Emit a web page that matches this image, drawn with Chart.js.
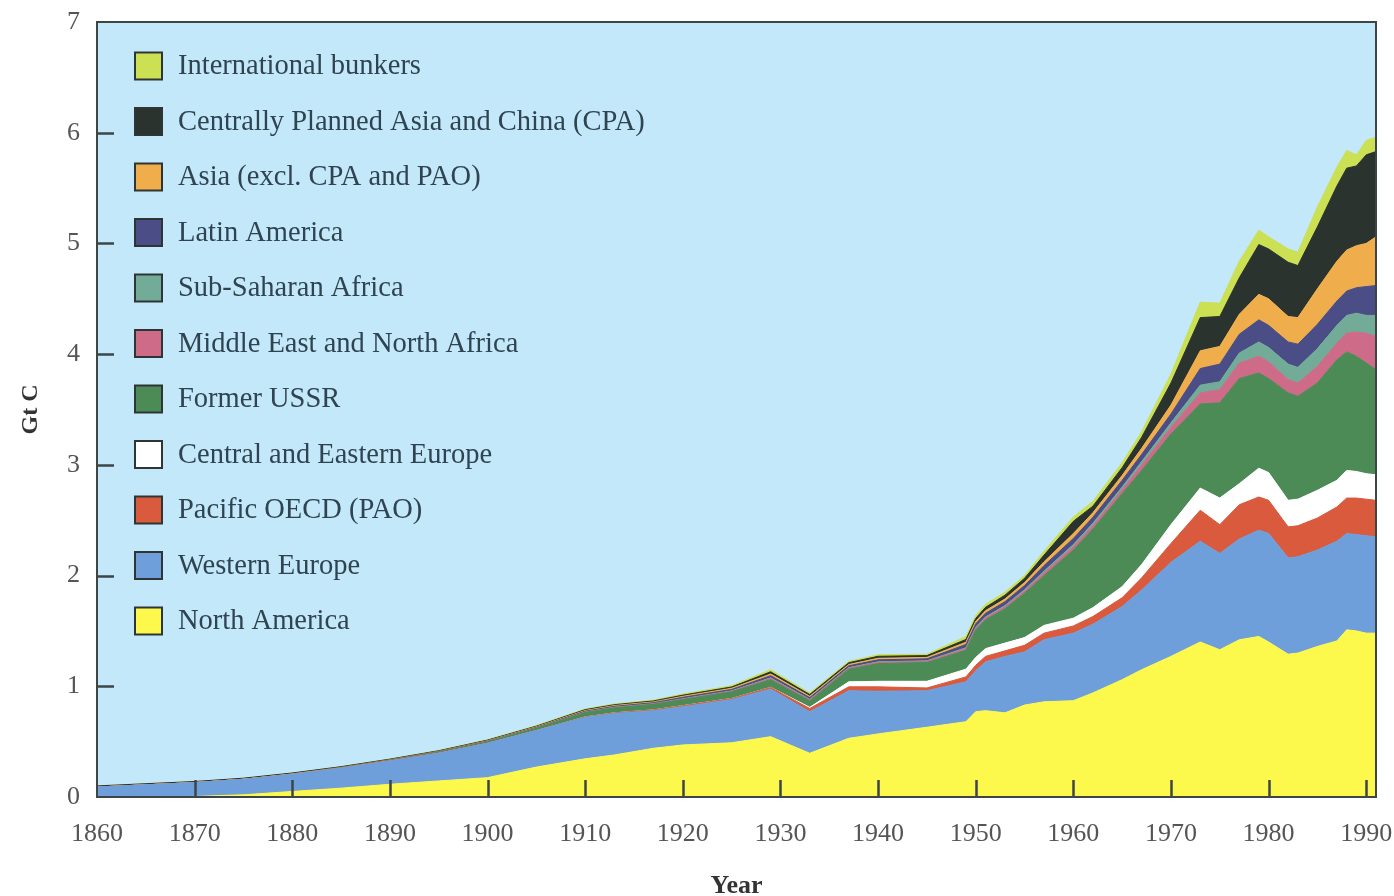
<!DOCTYPE html>
<html>
<head>
<meta charset="utf-8">
<title>Carbon emissions by region, 1860-1991</title>
<script src="https://cdn.jsdelivr.net/npm/chart.js@4.4.1/dist/chart.umd.min.js"></script>
<style>
  html, body { margin: 0; padding: 0; background: #ffffff; }
  #wrap { width: 1394px; height: 896px; }
</style>
</head>
<body>
<div id="wrap"><canvas id="emissions" width="1394" height="896"></canvas></div>
<script>
// Emissions in Gt C, one value per year below
const years = [1860, 1865, 1870, 1875, 1880, 1885, 1890, 1895, 1900, 1905,
  1910, 1913, 1917, 1920, 1925, 1929, 1933, 1937, 1940, 1945,
  1949, 1950, 1951, 1953, 1955, 1957, 1960, 1962, 1965, 1967,
  1970, 1973, 1975, 1977, 1979, 1980, 1982, 1983, 1985, 1987,
  1988, 1989, 1990, 1991];

const northAmerica = [0, 0, 0.005, 0.02, 0.05, 0.08, 0.115, 0.145, 0.175, 0.27,
  0.345, 0.38, 0.44, 0.47, 0.49, 0.545, 0.395, 0.53, 0.57, 0.63,
  0.68, 0.77, 0.78, 0.76, 0.83, 0.86, 0.87, 0.94, 1.06, 1.15,
  1.27, 1.40, 1.33, 1.42, 1.45, 1.40, 1.29, 1.30, 1.36, 1.41,
  1.51, 1.50, 1.48, 1.48];

const westernEurope = [0.09, 0.11, 0.125, 0.14, 0.155, 0.18, 0.21, 0.25, 0.31, 0.33,
  0.375, 0.375, 0.34, 0.345, 0.39, 0.43, 0.375, 0.43, 0.385, 0.33,
  0.36, 0.37, 0.44, 0.51, 0.48, 0.56, 0.61, 0.62, 0.66, 0.72,
  0.85, 0.91, 0.87, 0.91, 0.96, 0.98, 0.87, 0.87, 0.87, 0.90,
  0.87, 0.87, 0.88, 0.87];

const pacificOECD = [0, 0, 0, 0, 0, 0, 0, 0, 0, 0,
  0.003, 0.005, 0.007, 0.01, 0.01, 0.015, 0.03, 0.035, 0.04, 0.025,
  0.045, 0.05, 0.05, 0.05, 0.06, 0.06, 0.065, 0.07, 0.08, 0.11,
  0.17, 0.28, 0.26, 0.31, 0.30, 0.30, 0.28, 0.28, 0.29, 0.31,
  0.32, 0.33, 0.33, 0.33];

const easternEurope = [0, 0, 0, 0, 0, 0, 0, 0, 0, 0,
  0, 0, 0, 0, 0, 0, 0.01, 0.045, 0.05, 0.06,
  0.07, 0.07, 0.07, 0.07, 0.07, 0.07, 0.07, 0.08, 0.10, 0.12,
  0.17, 0.20, 0.24, 0.19, 0.26, 0.25, 0.24, 0.24, 0.25, 0.24,
  0.25, 0.24, 0.23, 0.23];

const formerUSSR = [0, 0, 0, 0, 0.002, 0.003, 0.005, 0.008, 0.013, 0.02,
  0.04, 0.045, 0.05, 0.055, 0.06, 0.07, 0.06, 0.115, 0.16, 0.17,
  0.17, 0.25, 0.26, 0.31, 0.40, 0.45, 0.615, 0.71, 0.84, 0.85,
  0.82, 0.76, 0.86, 0.95, 0.86, 0.85, 0.97, 0.93, 0.97, 1.09,
  1.07, 1.04, 1.00, 0.95];

const middleEast = [0, 0, 0, 0, 0, 0, 0.001, 0.001, 0.001, 0.002,
  0.002, 0.003, 0.003, 0.004, 0.005, 0.01, 0.008, 0.009, 0.01, 0.01,
  0.015, 0.015, 0.016, 0.018, 0.02, 0.025, 0.03, 0.03, 0.035, 0.05,
  0.06, 0.10, 0.12, 0.14, 0.15, 0.15, 0.12, 0.12, 0.15, 0.15,
  0.17, 0.22, 0.27, 0.30];

const subSaharan = [0, 0, 0, 0, 0, 0, 0, 0.001, 0.001, 0.002,
  0.003, 0.003, 0.003, 0.004, 0.004, 0.006, 0.005, 0.005, 0.006, 0.006,
  0.008, 0.009, 0.01, 0.011, 0.012, 0.015, 0.02, 0.022, 0.025, 0.03,
  0.04, 0.07, 0.07, 0.09, 0.13, 0.13, 0.14, 0.14, 0.16, 0.16,
  0.16, 0.17, 0.16, 0.19];

const latinAmerica = [0, 0, 0, 0, 0.001, 0.002, 0.003, 0.004, 0.004, 0.005,
  0.007, 0.008, 0.009, 0.012, 0.013, 0.02, 0.015, 0.016, 0.018, 0.017,
  0.03, 0.03, 0.033, 0.035, 0.038, 0.05, 0.055, 0.055, 0.06, 0.065,
  0.08, 0.15, 0.16, 0.17, 0.20, 0.20, 0.20, 0.21, 0.22, 0.22,
  0.22, 0.23, 0.26, 0.27];

const asiaOther = [0, 0, 0, 0, 0.001, 0.002, 0.002, 0.003, 0.004, 0.005,
  0.006, 0.007, 0.007, 0.009, 0.010, 0.015, 0.012, 0.012, 0.014, 0.013,
  0.02, 0.022, 0.024, 0.025, 0.027, 0.035, 0.045, 0.04, 0.045, 0.055,
  0.08, 0.16, 0.16, 0.18, 0.23, 0.24, 0.23, 0.24, 0.32, 0.36,
  0.37, 0.38, 0.39, 0.44];

const centralAsiaCPA = [0.01, 0.01, 0.01, 0.01, 0.008, 0.007, 0.006, 0.006, 0.006, 0.006,
  0.008, 0.008, 0.009, 0.011, 0.012, 0.02, 0.016, 0.016, 0.018, 0.016,
  0.025, 0.027, 0.03, 0.034, 0.038, 0.06, 0.11, 0.06, 0.07, 0.10,
  0.20, 0.30, 0.27, 0.33, 0.45, 0.45, 0.49, 0.47, 0.56, 0.68,
  0.74, 0.72, 0.80, 0.77];

const bunkers = [0, 0, 0, 0, 0, 0, 0.001, 0.002, 0.003, 0.005,
  0.006, 0.006, 0.007, 0.010, 0.011, 0.019, 0.014, 0.012, 0.014, 0.013,
  0.027, 0.027, 0.027, 0.027, 0.025, 0.035, 0.04, 0.043, 0.045, 0.05,
  0.08, 0.14, 0.12, 0.15, 0.13, 0.11, 0.12, 0.12, 0.18, 0.17,
  0.16, 0.10, 0.13, 0.13];

const seriesNames = ['North America', 'Western Europe', 'Pacific OECD (PAO)',
  'Central and Eastern Europe', 'Former USSR', 'Middle East and North Africa',
  'Sub-Saharan Africa', 'Latin America', 'Asia (excl. CPA and PAO)',
  'Centrally Planned Asia and China (CPA)', 'International bunkers'];
const seriesData = [northAmerica, westernEurope, pacificOECD, easternEurope, formerUSSR,
  middleEast, subSaharan, latinAmerica, asiaOther, centralAsiaCPA, bunkers];
const seriesColors = ['#fdf84c', '#6f9fdb', '#da5a3d', '#ffffff', '#4c8b55',
  '#cd6b89', '#72ab98', '#4b4d86', '#efae4b', '#2b332f', '#cbe052'];

const PLOT_BG = '#c3e8fa';
const FRAME = '#3d4646';
const SERIF = "'Liberation Serif', 'Times New Roman', serif";

const datasets = seriesData.map((vals, i) => ({
  label: seriesNames[i],
  data: years.map((y, j) => ({ x: y, y: vals[j] })),
  backgroundColor: seriesColors[i],
  borderColor: seriesColors[i],
  borderWidth: 1,
  pointRadius: 0,
  tension: 0,
  fill: i === 0 ? 'origin' : '-1'
}));

// light blue panel behind the areas
const panelBg = {
  id: 'panelBg',
  beforeDatasetsDraw(chart) {
    const { ctx, chartArea: a } = chart;
    ctx.save();
    ctx.fillStyle = PLOT_BG;
    ctx.fillRect(a.left, a.top, a.right - a.left, a.bottom - a.top);
    ctx.restore();
  }
};

// frame, inward tick marks and the boxed legend
const overlay = {
  id: 'overlay',
  afterDatasetsDraw(chart) {
    const { ctx, chartArea: a, scales } = chart;
    ctx.save();
    ctx.strokeStyle = FRAME;
    ctx.lineWidth = 2.5;
    ctx.beginPath();
    scales.x.ticks.forEach(t => {
      const px = Math.round(scales.x.getPixelForValue(t.value)) + 0.5;
      if (px <= a.left + 2 || px >= a.right - 2) return;
      ctx.moveTo(px, a.bottom);
      ctx.lineTo(px, a.bottom - 17);
    });
    scales.y.ticks.forEach(t => {
      const py = Math.round(scales.y.getPixelForValue(t.value)) + 0.5;
      if (py <= a.top + 2 || py >= a.bottom - 2) return;
      ctx.moveTo(a.left, py);
      ctx.lineTo(a.left + 17, py);
    });
    ctx.stroke();
    ctx.lineWidth = 2;
    ctx.strokeRect(a.left, a.top, a.right - a.left, a.bottom - a.top);

    // legend, top entry is the last series
    const boxX = 135, box = 27, textX = 178, firstY = 66, rowGap = 55.5;
    ctx.font = '28.5px ' + SERIF;
    ctx.textBaseline = 'middle';
    ctx.textAlign = 'left';
    const ds = chart.data.datasets;
    for (let k = 0; k < ds.length; k++) {
      const d = ds[ds.length - 1 - k];
      const cy = firstY + k * rowGap;
      ctx.fillStyle = d.backgroundColor;
      ctx.fillRect(boxX, cy - box / 2, box, box);
      ctx.lineWidth = 2;
      ctx.strokeStyle = '#2f3535';
      ctx.strokeRect(boxX, cy - box / 2, box, box);
      ctx.fillStyle = '#2f4350';
      ctx.fillText(d.label, textX, cy + 1);
    }
    ctx.restore();
  }
};

new Chart(document.getElementById('emissions'), {
  type: 'line',
  data: { datasets },
  options: {
    responsive: false,
    animation: false,
    devicePixelRatio: 1,
    layout: { padding: { left: 0, top: 22, right: 18, bottom: 0 } },
    plugins: {
      legend: { display: false },
      tooltip: { enabled: false },
      filler: { propagate: false }
    },
    scales: {
      x: {
        type: 'linear',
        min: 1860,
        max: 1991,
        grid: { display: false, drawTicks: false },
        border: { display: false },
        ticks: {
          stepSize: 10,
          includeBounds: false,
          maxRotation: 0,
          padding: 22,
          color: '#555555',
          font: { family: SERIF, size: 26 },
          callback: v => String(v)
        },
        title: {
          display: true,
          text: 'Year',
          color: '#333333',
          font: { family: SERIF, size: 26, weight: 'bold' },
          padding: { top: 0, bottom: -6 }
        },
        afterFit(scale) {
          scale.height = 99;
          scale.paddingLeft = 0;
          scale.paddingRight = 0;
        }
      },
      y: {
        stacked: true,
        min: 0,
        max: 7,
        grid: { display: false, drawTicks: false },
        border: { display: false },
        ticks: {
          stepSize: 1,
          padding: 17,
          color: '#555555',
          font: { family: SERIF, size: 26 }
        },
        title: {
          display: true,
          text: 'Gt C',
          color: '#333333',
          font: { family: SERIF, size: 24, weight: 'bold' },
          padding: { top: 16, bottom: 0 }
        },
        afterFit(scale) {
          scale.width = 97;
          scale.paddingTop = 0;
          scale.paddingBottom = 0;
        }
      }
    }
  },
  plugins: [panelBg, overlay]
});
</script>
</body>
</html>
